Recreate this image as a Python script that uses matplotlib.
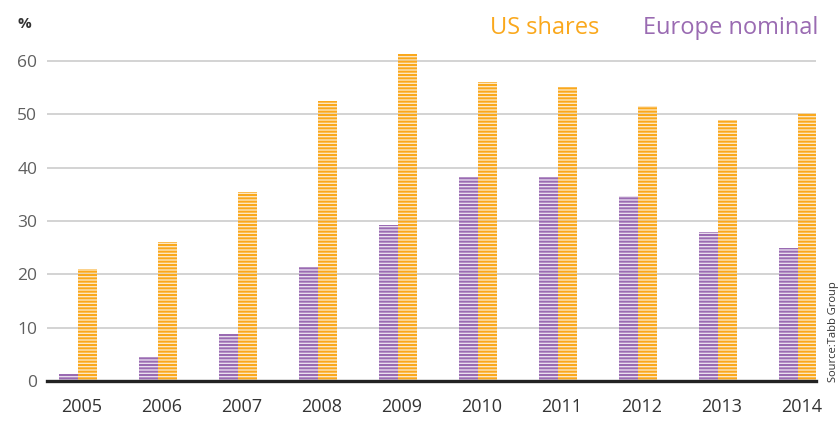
import numpy as np
import matplotlib
matplotlib.use('Agg')
import matplotlib.pyplot as plt

# Data
years = ['2005', '2006', '2007', '2008', '2009', '2010', '2011', '2012', '2013', '2014']
europe_nominal = [1.3, 4.5, 8.8, 21.3, 29.2, 38.2, 38.2, 34.7, 27.9, 25.0]
us_shares = [21.0, 26.0, 35.4, 52.5, 61.4, 56.1, 55.2, 51.6, 49.0, 50.3]
y_ticks = [0, 10, 20, 30, 40, 50, 60]

ORANGE = '#FAA81C'
ORANGE_LIGHT = '#FCD79A'
PURPLE = '#9A6BB2'
PURPLE_LIGHT = '#D9C6E4'

plt.rcParams['font.family'] = ['Open Sans', 'DejaVu Sans']
plt.rcParams['hatch.linewidth'] = 1.45

fig = plt.figure(figsize=(8.39, 4.30), dpi=100)
ax = fig.add_axes([0.056, 0.114, 0.917, 0.806])

x = np.arange(len(years))
w = 0.2375

# striped bars, grid shows through the light gaps
ax.bar(x - w / 2, europe_nominal, width=w, facecolor=(0.85, 0.78, 0.89, 0.55),
       edgecolor=PURPLE, hatch='-----', linewidth=0, zorder=3)
ax.bar(x + w / 2, us_shares, width=w, facecolor=(0.99, 0.84, 0.6, 0.55),
       edgecolor=ORANGE, hatch='-----', linewidth=0, zorder=3)

ax.set_xlim(-0.39, 9.225)
ax.set_ylim(0, 65)
ax.set_yticks(y_ticks)
ax.set_xticks(x + 0.04)
ax.set_xticklabels(years)

# grid + baseline
ax.yaxis.grid(True, color='#d3d3d3', linewidth=1.4, zorder=0)
ax.set_axisbelow(True)
for s in ['top', 'right', 'left']:
    ax.spines[s].set_visible(False)
ax.spines['bottom'].set_color('#222222')
ax.spines['bottom'].set_linewidth(2.4)
ax.spines['bottom'].set_zorder(4)

ax.tick_params(axis='y', length=0, pad=7, labelsize=12.5, labelcolor='#5f5f5f')
ax.tick_params(axis='x', length=0, pad=12, labelsize=13, labelcolor='#333333')

fig.text(0.021, 0.935, '%', fontsize=11, color='#333333', fontweight='bold')

# legend as coloured text
fig.text(0.584, 0.92, 'US shares', fontsize=17, color=ORANGE)
fig.text(0.766, 0.92, 'Europe nominal', fontsize=17, color=PURPLE)

fig.text(0.993, 0.112, 'Source:Tabb Group', fontsize=8, color='#333333',
         rotation=90, ha='center', va='bottom')

fig.savefig('out.png', dpi=100)
